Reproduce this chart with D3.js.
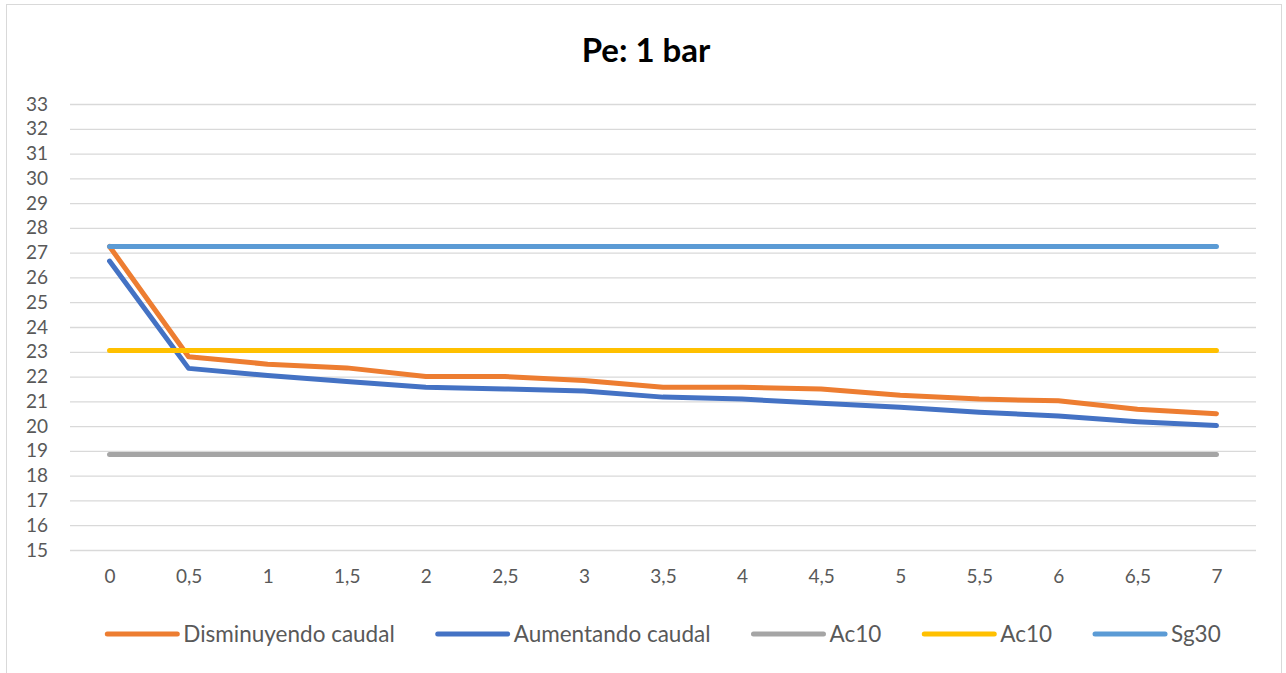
<!DOCTYPE html>
<html>
<head>
<meta charset="utf-8">
<script src="https://cdn.jsdelivr.net/npm/d3@7"></script>
<style>
  html, body { margin: 0; padding: 0; background: #fff; }
  svg { display: block; font-family: Lato, "Open Sans", sans-serif; }
</style>
</head>
<body>
<svg id="chart" width="1286" height="673"></svg>
<script>
// ---- data ----
const categories = ["0","0,5","1","1,5","2","2,5","3","3,5","4","4,5","5","5,5","6","6,5","7"];
const disminuyendo = [27.25,22.8,22.5,22.35,22.0,22.0,21.84,21.57,21.57,21.5,21.25,21.09,21.02,20.68,20.5];
const aumentando   = [26.66,22.33,22.04,21.8,21.57,21.5,21.42,21.17,21.09,20.92,20.76,20.56,20.41,20.18,20.02];
const ac10Grey     = [18.85,18.85,18.85,18.85,18.85,18.85,18.85,18.85,18.85,18.85,18.85,18.85,18.85,18.85,18.85];
const ac10Yellow   = [23.05,23.05,23.05,23.05,23.05,23.05,23.05,23.05,23.05,23.05,23.05,23.05,23.05,23.05,23.05];
const sg30         = [27.25,27.25,27.25,27.25,27.25,27.25,27.25,27.25,27.25,27.25,27.25,27.25,27.25,27.25,27.25];
const yTicks = d3.range(15, 34, 1);
const seriesNames = ["Disminuyendo caudal","Aumentando caudal","Ac10","Ac10","Sg30"];
const seriesColors = ["#ED7D31","#4472C4","#A5A5A5","#FFC000","#5B9BD5"];
const title = "Pe: 1 bar";

const series = [
  {name: seriesNames[0], color: seriesColors[0], values: disminuyendo},
  {name: seriesNames[1], color: seriesColors[1], values: aumentando},
  {name: seriesNames[2], color: seriesColors[2], values: ac10Grey},
  {name: seriesNames[3], color: seriesColors[3], values: ac10Yellow},
  {name: seriesNames[4], color: seriesColors[4], values: sg30}
];
const svg = d3.select("#chart");

// chart border
svg.append("rect").attr("x", 6.5).attr("y", 4.5).attr("width", 1275).attr("height", 675)
  .attr("fill", "#fff").attr("stroke", "#d9d9d9").attr("stroke-width", 1);

const plot = {left: 70, right: 1256, top: 104, bottom: 550};

const x = d3.scalePoint().domain(categories).range([plot.left, plot.right]).padding(0.5);
const y = d3.scaleLinear().domain([15, 33]).range([plot.bottom, plot.top]);

// title
svg.append("text").attr("x", 646).attr("y", 62).attr("text-anchor", "middle")
  .attr("font-size", 33).attr("font-weight", "bold").attr("fill", "#000").text(title);

// gridlines + y axis
const yAxis = d3.axisLeft(y).tickValues(yTicks).tickSize(-(plot.right - plot.left)).tickPadding(22).tickFormat(d3.format("d"));
const gy = svg.append("g").attr("transform", `translate(${plot.left},0)`).call(yAxis);
gy.select(".domain").remove();
gy.selectAll(".tick line").attr("stroke", "#d9d9d9").attr("stroke-width", 1.3);
gy.selectAll(".tick text").attr("fill", "#595959").attr("font-size", 19).attr("font-family", "Lato, sans-serif");

const xAxis = d3.axisBottom(x).tickSize(0).tickPadding(20);
const gx = svg.append("g").attr("transform", `translate(0,${plot.bottom})`).call(xAxis);
gx.select(".domain").remove();
gx.selectAll(".tick text").attr("fill", "#595959").attr("font-size", 19).attr("font-family", "Lato, sans-serif");

// lines
const line = d3.line().x((d, i) => x(categories[i])).y(d => y(d));
svg.append("g").selectAll("path").data(series).join("path")
  .attr("d", d => line(d.values))
  .attr("fill", "none").attr("stroke", d => d.color).attr("stroke-width", 5)
  .attr("stroke-linecap", "round").attr("stroke-linejoin", "round");

// legend
const legend = svg.append("g");
const legendY = 634;
const lineLen = 70, gapText = 6, gapItem = 43;
const items = legend.selectAll("g").data(series).join("g");
items.append("line").attr("x1", 0).attr("x2", lineLen).attr("y1", 0).attr("y2", 0)
  .attr("stroke", d => d.color).attr("stroke-width", 5).attr("stroke-linecap", "round");
items.append("text").attr("x", lineLen + gapText).attr("y", 0).attr("dy", "0.35em")
  .attr("font-size", 22.5).attr("fill", "#595959").attr("font-family", "Lato, sans-serif").text(d => d.name);
const widths = [];
items.each(function() { widths.push(this.getBBox().width); });
const total = d3.sum(widths) + gapItem * (widths.length - 1);
let start = 664 - total / 2;
items.attr("transform", (d, i) => {
  const t = `translate(${start},${legendY})`;
  start += widths[i] + gapItem;
  return t;
});
</script>
</body>
</html>
